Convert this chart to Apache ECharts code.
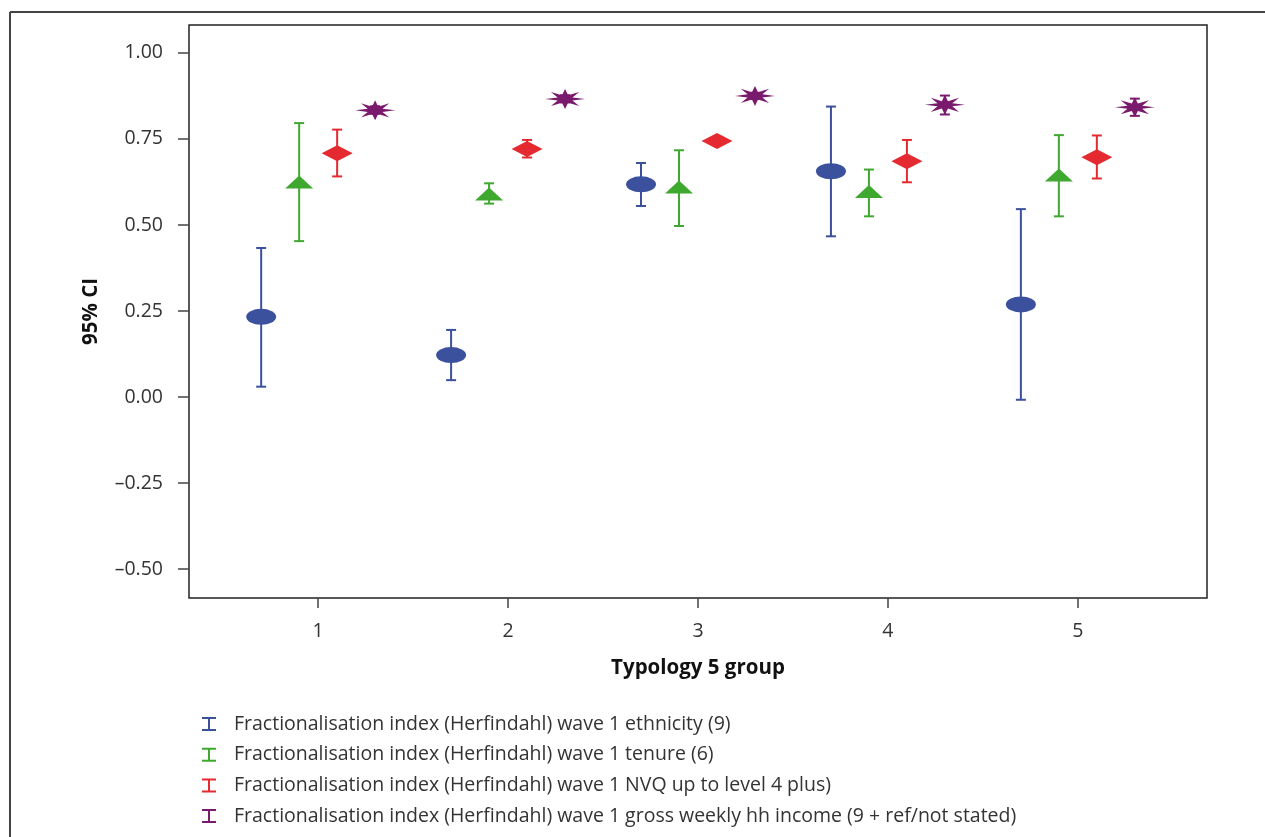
<!DOCTYPE html>
<html><head><meta charset="utf-8">
<script src="https://cdn.jsdelivr.net/npm/echarts@6/dist/echarts.min.js"></script>
<style>html,body{margin:0;padding:0;background:#fff}#c{width:1265px;height:837px}</style>
</head><body><div id="c"></div>
<script>
const groups = [1, 2, 3, 4, 5];
const yTicks = [-0.5, -0.25, 0, 0.25, 0.5, 0.75, 1.0];
const seriesNames = [
  'Fractionalisation index (Herfindahl) wave 1 ethnicity (9)',
  'Fractionalisation index (Herfindahl) wave 1 tenure (6)',
  'Fractionalisation index (Herfindahl) wave 1 NVQ up to level 4 plus)',
  'Fractionalisation index (Herfindahl) wave 1 gross weekly hh income (9 + ref/not stated)'
];
const offsets = [-0.3, -0.1, 0.1, 0.3];
const colors = ['#3B519E', '#3FA92F', '#E42A30', '#7A1A6C'];
// estimates per group 1..5
const ethnicityMean = [0.233, 0.122, 0.618, 0.656, 0.269];
const ethnicityLow  = [0.030, 0.049, 0.555, 0.467, -0.008];
const ethnicityHigh = [0.433, 0.195, 0.680, 0.844, 0.546];
const tenureMean = [0.625, 0.590, 0.610, 0.597, 0.645];
const tenureLow  = [0.453, 0.562, 0.497, 0.525, 0.525];
const tenureHigh = [0.796, 0.621, 0.717, 0.661, 0.761];
const nvqMean = [0.708, 0.721, 0.744, 0.685, 0.697];
const nvqLow  = [0.641, 0.696, 0.736, 0.624, 0.635];
const nvqHigh = [0.777, 0.747, 0.752, 0.747, 0.760];
const incomeMean = [0.833, 0.866, 0.875, 0.849, 0.842];
const incomeLow  = [0.823, 0.856, 0.866, 0.821, 0.817];
const incomeHigh = [0.845, 0.877, 0.884, 0.876, 0.867];

const means = [ethnicityMean, tenureMean, nvqMean, incomeMean];
const lows = [ethnicityLow, tenureLow, nvqLow, incomeLow];
const highs = [ethnicityHigh, tenureHigh, nvqHigh, incomeHigh];

const starPath = (function(){
  let pts = [];
  for (let i = 0; i < 16; i++) {
    const a = Math.PI * i / 8;
    const r = (i % 2 === 0) ? 50 : 20;
    pts.push((50 + r * Math.cos(a)).toFixed(2) + ',' + (50 + r * Math.sin(a)).toFixed(2));
  }
  return 'path://M' + pts.join(' L') + ' Z';
})();
const symbols = [
  'circle',
  'path://M50,0 L100,100 L0,100 Z',
  'path://M50,0 L100,50 L50,100 L0,50 Z',
  starPath
];
const symbolSizes = [[30, 16], [28, 13], [31, 16], [40, 20]];
const legendIcon = 'path://M0,0 L14,0 L14,2 L8,2 L8,12 L14,12 L14,14 L0,14 L0,12 L6,12 L6,2 L0,2 Z';
const fontFam = '"Open Sans", "Noto Sans", sans-serif';

const series = [];
for (let s = 0; s < 4; s++) {
  const errData = groups.map((g, i) => [g + offsets[s], lows[s][i], highs[s][i]]);
  series.push({
    type: 'custom', name: seriesNames[s], color: colors[s],
    data: errData, z: 2,
    renderItem: function (params, api) {
      const x = api.value(0);
      const lo = api.coord([x, api.value(1)]);
      const hi = api.coord([x, api.value(2)]);
      const w = 5;
      const st = { stroke: colors[s], lineWidth: 2 };
      return { type: 'group', children: [
        { type: 'line', shape: { x1: lo[0], y1: lo[1], x2: hi[0], y2: hi[1] }, style: st },
        { type: 'line', shape: { x1: lo[0] - w, y1: lo[1], x2: lo[0] + w, y2: lo[1] }, style: st },
        { type: 'line', shape: { x1: hi[0] - w, y1: hi[1], x2: hi[0] + w, y2: hi[1] }, style: st }
      ]};
    }
  });
  series.push({
    type: 'scatter', name: seriesNames[s], color: colors[s], z: 3,
    symbol: symbols[s], symbolSize: symbolSizes[s],
    itemStyle: { color: colors[s], opacity: 1 },
    data: groups.map((g, i) => [g + offsets[s], means[s][i]])
  });
}

const chart = echarts.init(document.getElementById('c'), null, { renderer: 'canvas' });
chart.setOption({
  animation: false,
  backgroundColor: '#fff',
  textStyle: { fontFamily: fontFam },
  grid: { left: 189, right: 58, top: 25, bottom: 239, show: true, borderColor: '#222', borderWidth: 1.5 },
  xAxis: {
    type: 'value', min: 0.32, max: 5.68,
    name: 'Typology 5 group', nameLocation: 'middle', nameGap: 60,
    nameTextStyle: { fontFamily: fontFam, fontWeight: 'bold', fontSize: 20.5, color: '#111' },
    axisLine: { show: false, onZero: false },
    splitLine: { show: false },
    axisTick: { show: true, length: 10, lineStyle: { color: '#444', width: 1.5 }, customValues: groups },
    axisLabel: { fontFamily: fontFam, fontSize: 19.5, color: '#333', margin: 23, customValues: groups, formatter: v => String(v) }
  },
  yAxis: {
    type: 'value', min: -0.584, max: 1.081,
    name: '95% CI', nameLocation: 'middle', nameGap: 87,
    nameTextStyle: { fontFamily: fontFam, fontWeight: 'bold', fontSize: 20.5, color: '#111' },
    axisLine: { show: false, onZero: false },
    splitLine: { show: false },
    axisTick: { show: true, length: 11, lineStyle: { color: '#444', width: 1.5 }, customValues: yTicks },
    axisLabel: { fontFamily: fontFam, fontSize: 19.5, color: '#333', margin: 26, customValues: yTicks,
      formatter: v => (v < 0 ? '\u2013' : '') + Math.abs(v).toFixed(2) }
  },
  legend: {
    orient: 'vertical', left: 197, top: 709, itemGap: 10.7, itemWidth: 14, itemHeight: 14,
    icon: legendIcon,
    textStyle: { fontFamily: fontFam, fontSize: 19.5, color: '#333', padding: [0, 0, 0, 13] },
    data: seriesNames.map((n, i) => ({ name: n, itemStyle: { color: colors[i] } })),
    selectedMode: false
  },
  graphic: [
    { type: 'line', shape: { x1: 10, y1: 12, x2: 10, y2: 837 }, style: { stroke: '#444', lineWidth: 2 } },
    { type: 'line', shape: { x1: 10, y1: 12, x2: 1265, y2: 12 }, style: { stroke: '#444', lineWidth: 2 } }
  ],
  series: series
});
</script>
</body></html>
